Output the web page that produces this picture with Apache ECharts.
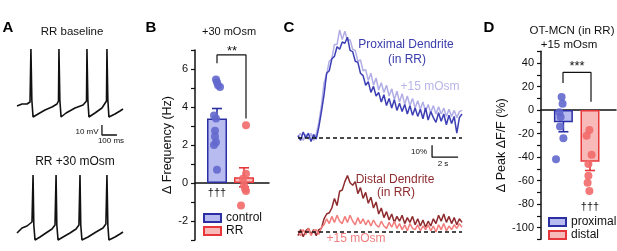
<!DOCTYPE html>
<html>
<head>
<meta charset="utf-8">
<script src="https://cdn.jsdelivr.net/npm/echarts@6/dist/echarts.min.js"></script>
<style>
html, body { margin: 0; padding: 0; background: #fff; }
#chart { width: 617px; height: 251px; }
</style>
</head>
<body>
<div id="chart"></div>
<script>
// A: action potential traces (ms, mV)
const apBaseT = [0, 33, 66, 86, 92, 98, 106, 139, 185, 231, 264, 274, 277, 283, 291, 324, 383, 436, 459, 462, 468, 475, 515, 561, 591, 594, 600, 607, 647, 680, 700]
const apBaseV = [-37, -35, -35, -33, 20, -31, -48, -45, -41, -38, -35, -32, 20, -31, -48, -44, -39, -36, -32, 20, -31, -48, -44, -39, -32, 20, -31, -48, -45, -42, -40]
const apOsmT = [0, 33, 66, 99, 106, 111, 119, 152, 191, 231, 251, 258, 263, 271, 304, 350, 390, 409, 416, 421, 429, 469, 522, 568, 587, 594, 600, 607, 647, 680, 700]
const apOsmV = [-38, -33, -31, -27, 20, -30, -45, -42, -38, -34, -30, 20, -30, -45, -42, -38, -34, -30, 20, -30, -45, -42, -37, -33, -29, 20, -30, -45, -42, -39, -37]
const apScaleBar = [[561, -56], [561, -66], [660, -66]]

// B: delta frequency (Hz)
const freqCats = ['control', 'RR']
const freqMean = [3.4, 0.3]
const freqSem = [0.52, 0.5]
const ctrlDots = [5.45, 5.3, 5.15, 5.05, 3.55, 3.4, 2.75, 2.45, 2.15, 2.0, 0.7]
const ctrlJit = [1.05, 1.1, 1.15, 1.25, 0.95, 1.05, 1.0, 1.0, 1.05, 0.95, 1.1]
const rrDots = [3.04, 0.49, 0.23, -0.12, -0.3, -0.42, -1.18]
const rrJit = [2.55, 2.55, 2.4, 2.45, 2.5, 2.55, 2.3]

// C: calcium traces (% dF/F, sampled every 0.2 s)
const dt = 0.2
const proxDark = [2, -2, 5, 0, 4, -3, 3, -1, 9, 22, 36, 54, 56, 66, 68, 76, 74, 80, 79, 84, 73, 72, 64, 63, 54, 52, 44, 47, 38, 43, 35, 38, 30, 36, 27, 33, 25, 32, 23, 29, 22, 28, 20, 27, 19, 25, 18, 24, 16, 25, 15, 22, 17, 13, 21, 14, 20, 11, 19, 12, 18, 4, 17, 20]
const proxLight = [1, 4, -2, 3, -1, 4, -2, 3, 13, 27, 46, 53, 64, 66, 78, 78, 90, 82, 89, 81, 82, 74, 73, 64, 65, 56, 57, 48, 54, 44, 50, 40, 46, 38, 44, 35, 41, 32, 39, 30, 37, 28, 35, 27, 33, 25, 31, 24, 30, 22, 28, 21, 27, 20, 26, 20, 25, 18, 24, 18, 23, 17, 22, 23]
const distDark = [-3, 2, -4, 1, 3, -2, 2, -3, 2, 3, 11, 15, 16, 20, 28, 22, 34, 35, 42, 47, 41, 39, 42, 32, 37, 28, 33, 24, 29, 20, 25, 15, 20, 12, 17, 10, 15, 8, 13, 9, 14, 7, 12, 8, 13, 6, 11, 5, 10, 4, 9, 5, 11, 7, 14, 9, 15, 8, 13, 7, 12, 6, 11, 8]
const distLight = [1, -3, 2, -2, 3, -3, 1, 2, -2, 4, 6, 11, 7, 13, 8, 14, 9, 7, 13, 8, 14, 9, 6, 12, 7, 11, 6, 10, 5, 10, 6, 4, 9, 5, 3, 8, 4, 9, 3, 7, 2, 6, 1, 7, 3, 2, 6, 1, 5, 2, 6, 1, 5, 0, 6, 2, 7, 1, 5, 2, 6, 3, 7, 4]
const caScaleBar = [[10.3, -6], [10.3, -16], [12.3, -16]]

// D: delta peak dF/F (%)
const peakCats = ['proximal', 'distal']
const peakMean = [-10.5, -44]
const peakSem = [8, 7.5]
const proxDots = [11, 5.4, -2, -6, -14, -24, -42]
const proxJit = [1.03, 1.08, 0.92, 0.98, 0.95, 1.12, 0.75]
const distDots = [-17, -22, -38, -46, -56, -62, -69]
const distJit = [2.42, 2.28, 2.53, 2.37, 2.37, 2.33, 2.42]

const FONT = '"Liberation Sans", Arial, sans-serif'
const BLUE = '#2b2fa3', BLUE_FILL = '#b7bbf0', BLUE_DOT = '#6368cd'
const RED = '#e8373a', RED_FILL = '#f8b9b9', RED_DOT = '#f26a6a'

const zip = (a, b) => a.map((v, i) => [v, b[i]])
const timed = arr => arr.map((v, i) => [+(i * dt).toFixed(2), v])

function txt(x, y, s, size, color, weight) {
	return {
		type: 'text', x: x, y: y, silent: true,
		style: {
			text: s, font: (weight || 'normal') + ' ' + size + 'px ' + FONT,
			fill: color || '#111', textAlign: 'center', textVerticalAlign: 'middle',
			align: 'center', verticalAlign: 'middle'
		}
	}
}

function errBar(color) {
	return function(params, api) {
		const x = api.value(0)
		const lo = api.coord([x, api.value(1)])
		const hi = api.coord([x, api.value(2)])
		const w = 5
		const st = { stroke: color, lineWidth: 1.6 }
		return {
			type: 'group',
			children: [
				{ type: 'line', shape: { x1: lo[0], y1: lo[1], x2: hi[0], y2: hi[1] }, style: st },
				{ type: 'line', shape: { x1: hi[0] - w, y1: hi[1], x2: hi[0] + w, y2: hi[1] }, style: st },
				{ type: 'line', shape: { x1: lo[0] - w, y1: lo[1], x2: lo[0] + w, y2: lo[1] }, style: st }
			]
		}
	}
}

function hiddenAxis(grid, min, max) {
	return { gridIndex: grid, type: 'value', min: min, max: max, show: false }
}

function barYAxis(grid, min, max, step, labelOk, name, gap) {
	return {
		gridIndex: grid, type: 'value', min: min, max: max, interval: step,
		axisLine: { show: true, onZero: false, lineStyle: { color: '#111', width: 1.5 } },
		axisTick: { show: true, length: 4, lineStyle: { color: '#111', width: 1.2 } },
		axisLabel: { margin: 7, fontSize: 11, color: '#111', fontFamily: FONT,
			formatter: v => (labelOk(v) ? String(v) : '') },
		splitLine: { show: false },
		name: name, nameLocation: 'middle', nameGap: gap,
		nameTextStyle: { fontSize: 12.5, color: '#111', fontFamily: FONT }
	}
}

function barXAxis(grid, max) {
	return {
		gridIndex: grid, type: 'value', min: 0, max: max,
		axisLine: { show: true, onZero: true, lineStyle: { color: '#111', width: 1.5 } },
		axisTick: { show: false }, axisLabel: { show: false }, splitLine: { show: false }
	}
}

function legendBox(left, top, names) {
	return {
		left: left, top: top, orient: 'vertical', padding: 0,
		itemWidth: 17, itemHeight: 8, itemGap: 1,
		icon: 'rect', selectedMode: false, data: names,
		textStyle: { fontSize: 12, lineHeight: 12, color: '#111', fontFamily: FONT }
	}
}

const line = (xi, data, color, width, extra) => Object.assign({
	type: 'line', xAxisIndex: xi, yAxisIndex: xi, data: data, symbol: 'none',
	lineStyle: { color: color, width: width }, silent: true, animation: false
}, extra || {})

const myChart = echarts.init(document.getElementById('chart'))

const option = {
	animation: false,
	grid: [
		{ left: 17, top: 40, width: 106, height: 100, outerBoundsMode: 'none' },
		{ left: 17, top: 166, width: 106, height: 80, outerBoundsMode: 'none' },
		{ left: 195, top: 50, width: 74, height: 190, outerBoundsMode: 'none' },
		{ left: 298, top: 30, width: 164, height: 132, outerBoundsMode: 'none' },
		{ left: 298, top: 160, width: 164, height: 84, outerBoundsMode: 'none' },
		{ left: 541, top: 51.25, width: 75, height: 188, outerBoundsMode: 'none' }
	],
	xAxis: [
		hiddenAxis(0, 0, 700),
		hiddenAxis(1, 0, 700),
		barXAxis(2, 3.7),
		hiddenAxis(3, 0, 12.6),
		hiddenAxis(4, 0, 12.6),
		barXAxis(5, 3.75)
	],
	yAxis: [
		hiddenAxis(0, -71, 29),
		hiddenAxis(1, -51, 29),
		barYAxis(2, -3, 7, 1, v => v % 2 === 0 && v >= -2 && v <= 6, 'Δ Frequency (Hz)', 13),
		hiddenAxis(3, -20, 90),
		hiddenAxis(4, -10, 60),
		barYAxis(5, -110, 50, 10, v => v % 20 === 0 && v >= -100 && v <= 40, 'Δ Peak ΔF/F (%)', 30)
	],
	legend: [
		legendBox(203, 212, freqCats),
		legendBox(548, 216, peakCats)
	],
	series: [
		// A
		line(0, zip(apBaseT, apBaseV), '#111', 1.6),
		line(0, apScaleBar, '#111', 1.3),
		line(1, zip(apOsmT, apOsmV), '#111', 1.6),

		// B
		{
			name: freqCats[0], type: 'bar', xAxisIndex: 2, yAxisIndex: 2, barWidth: 20, barGap: '-100%',
			data: [[1.1, freqMean[0]]],
			itemStyle: { color: BLUE_FILL, borderColor: BLUE, borderWidth: 1.5 }
		},
		{
			name: freqCats[1], type: 'bar', xAxisIndex: 2, yAxisIndex: 2, barWidth: 20, barGap: '-100%',
			data: [[2.45, freqMean[1]]],
			itemStyle: { color: RED_FILL, borderColor: RED, borderWidth: 1.5 }
		},
		{
			name: 'ctrlDots', type: 'scatter', xAxisIndex: 2, yAxisIndex: 2, symbolSize: 8,
			data: zip(ctrlJit, ctrlDots), itemStyle: { color: BLUE_DOT, opacity: 0.9 }
		},
		{
			name: 'rrDots', type: 'scatter', xAxisIndex: 2, yAxisIndex: 2, symbolSize: 8,
			data: zip(rrJit, rrDots), itemStyle: { color: RED_DOT, opacity: 0.9 }
		},
		{
			type: 'custom', xAxisIndex: 2, yAxisIndex: 2, renderItem: errBar(BLUE), encode: { x: 0, y: [1, 2] },
			data: [[1.1, freqMean[0] - freqSem[0], freqMean[0] + freqSem[0]]]
		},
		{
			type: 'custom', xAxisIndex: 2, yAxisIndex: 2, renderItem: errBar(RED), encode: { x: 0, y: [1, 2] },
			data: [[2.45, freqMean[1] - freqSem[1], freqMean[1] + freqSem[1]]]
		},
		line(2, [[1.1, 6.3], [1.1, 6.74], [2.55, 6.74], [2.55, 3.4]], '#111', 1.2),

		// C
		line(3, timed(proxLight), '#b1aee6', 1.5),
		line(3, timed(proxDark), '#3c3fb4', 1.5),
		line(3, [[0, 0], [12.6, 0]], '#111', 1.3, { lineStyle: { color: '#111', width: 1.3, type: [4, 3] } }),
		line(3, caScaleBar, '#111', 1.3),
		line(4, timed(distDark), '#8e2b2f', 1.5),
		line(4, timed(distLight), '#f27c7c', 1.5),
		line(4, [[0, 0], [12.6, 0]], '#111', 1.3, { lineStyle: { color: '#111', width: 1.3, type: [4, 3] } }),

		// D
		{
			name: peakCats[0], type: 'bar', xAxisIndex: 5, yAxisIndex: 5, barWidth: 19, barGap: '-100%',
			data: [[1.12, peakMean[0]]],
			itemStyle: { color: BLUE_FILL, borderColor: BLUE, borderWidth: 1.5 }
		},
		{
			name: peakCats[1], type: 'bar', xAxisIndex: 5, yAxisIndex: 5, barWidth: 19, barGap: '-100%',
			data: [[2.45, peakMean[1]]],
			itemStyle: { color: RED_FILL, borderColor: RED, borderWidth: 1.5 }
		},
		{
			name: 'proxDots', type: 'scatter', xAxisIndex: 5, yAxisIndex: 5, symbolSize: 8,
			data: zip(proxJit, proxDots), itemStyle: { color: BLUE_DOT, opacity: 0.9 }
		},
		{
			name: 'distDots', type: 'scatter', xAxisIndex: 5, yAxisIndex: 5, symbolSize: 8,
			data: zip(distJit, distDots), itemStyle: { color: RED_DOT, opacity: 0.9 }
		},
		{
			type: 'custom', xAxisIndex: 5, yAxisIndex: 5, renderItem: errBar(BLUE), encode: { x: 0, y: [1, 2] },
			data: [[1.12, peakMean[0] - peakSem[0], peakMean[0] + peakSem[0]]]
		},
		{
			type: 'custom', xAxisIndex: 5, yAxisIndex: 5, renderItem: errBar(RED), encode: { x: 0, y: [1, 2] },
			data: [[2.45, peakMean[1] - peakSem[1], peakMean[1] + peakSem[1]]]
		},
		line(5, [[1.1, 23], [1.1, 32], [2.5, 32], [2.5, 7]], '#111', 1.2)
	],
	graphic: [
		txt(8, 28, 'A', 15, '#000', 'bold'),
		txt(151, 28, 'B', 15, '#000', 'bold'),
		txt(289, 28, 'C', 15, '#000', 'bold'),
		txt(489, 28, 'D', 15, '#000', 'bold'),

		txt(72, 32, 'RR baseline', 11.5),
		txt(75, 162, 'RR +30 mOsm', 12),
		txt(87, 132, '10 mV', 8),
		txt(111, 141, '100 ms', 8),

		txt(229, 32, '+30 mOsm', 11),
		txt(232, 51, '**', 13),
		txt(217, 193, '†††', 11),

		txt(406, 45, 'Proximal Dendrite', 12, '#3a3dab'),
		txt(407, 60, '(in RR)', 12, '#3a3dab'),
		txt(430, 87, '+15 mOsm', 12, '#b8b5e8'),
		txt(419, 152, '10%', 8),
		txt(443, 164, '2 s', 8),
		txt(395, 180, 'Distal Dendrite', 12, '#8e2b2f'),
		txt(396, 193, '(in RR)', 12, '#8e2b2f'),
		txt(356, 239, '+15 mOsm', 12, '#f08080'),

		txt(572, 31, 'OT-MCN (in RR)', 11.5),
		txt(569, 45, '+15 mOsm', 11.5),
		txt(577, 66, '***', 13),
		txt(590, 207, '†††', 11)
	]
}

myChart.setOption(option)
</script>
</body>
</html>
